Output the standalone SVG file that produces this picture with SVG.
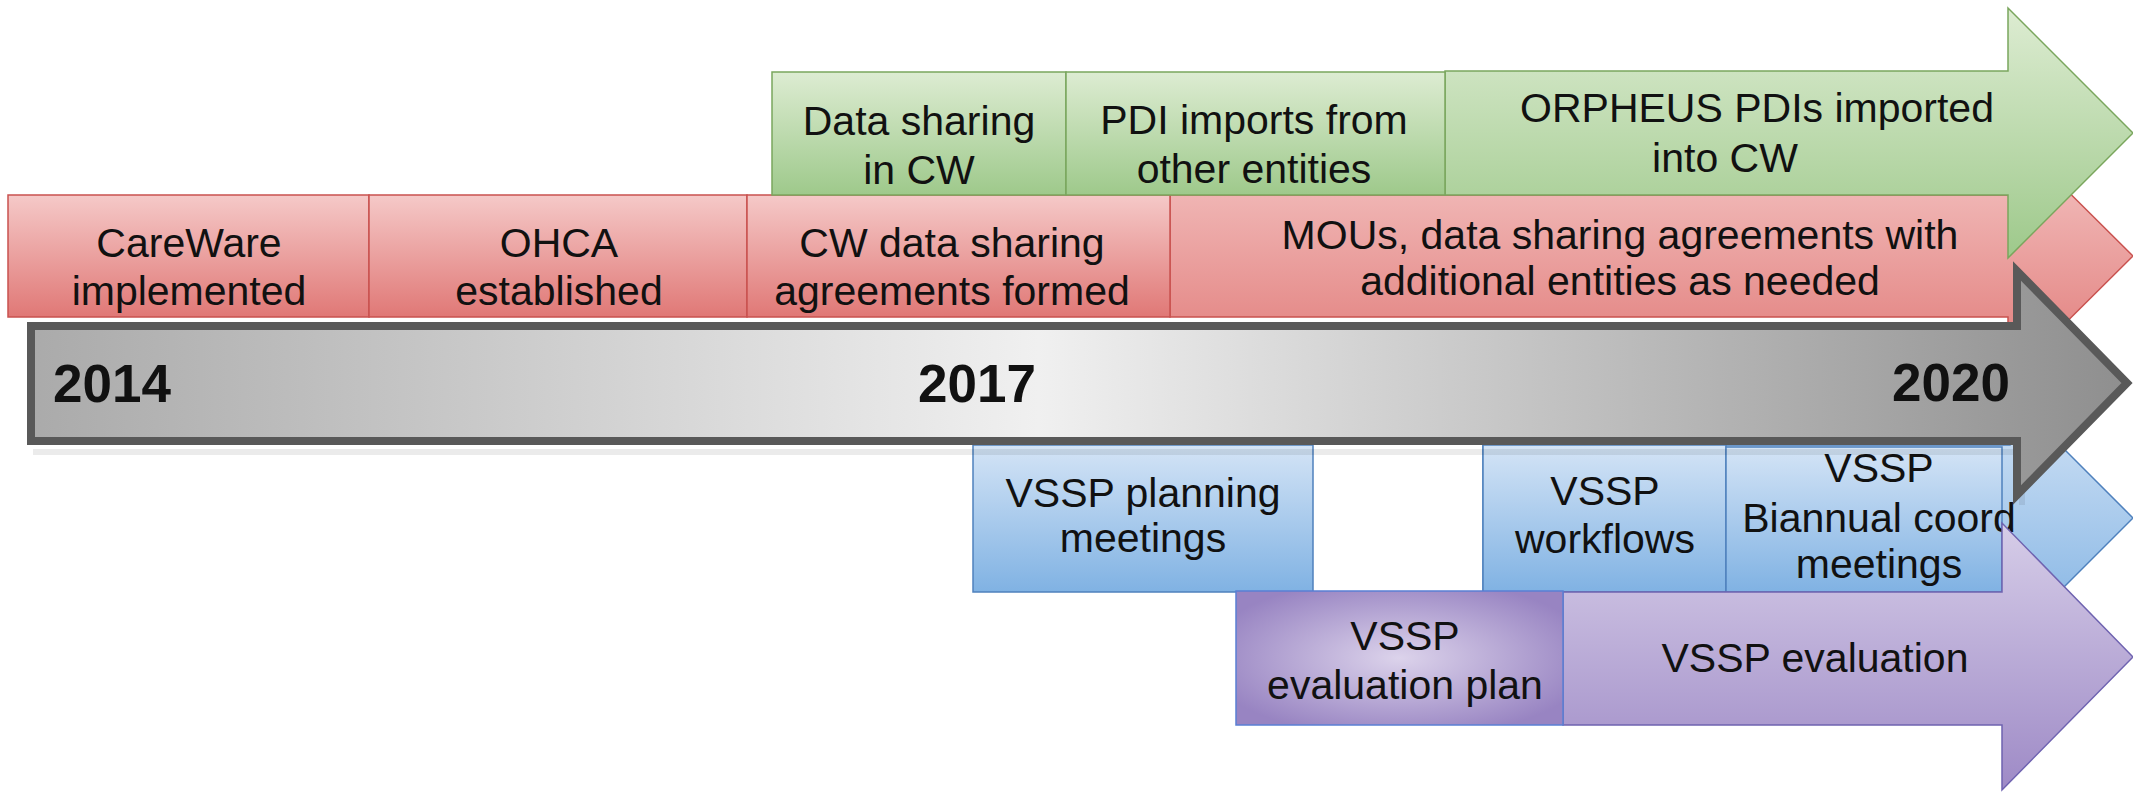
<svg xmlns="http://www.w3.org/2000/svg" width="2133" height="794" viewBox="0 0 2133 794">
<defs>
<linearGradient id="gRed" x1="0" y1="0" x2="0" y2="1"><stop offset="0" stop-color="#f5c9c8"/><stop offset="1" stop-color="#e07876"/></linearGradient>
<linearGradient id="gRedHead" gradientUnits="userSpaceOnUse" x1="0" y1="132" x2="0" y2="380"><stop offset="0" stop-color="#f5c9c8"/><stop offset="1" stop-color="#e07876"/></linearGradient>
<linearGradient id="gGreen" x1="0" y1="0" x2="0" y2="1"><stop offset="0" stop-color="#ddecd2"/><stop offset="1" stop-color="#9ec98b"/></linearGradient>
<linearGradient id="gGreenHead" gradientUnits="userSpaceOnUse" x1="0" y1="8" x2="0" y2="257"><stop offset="0" stop-color="#ddecd2"/><stop offset="1" stop-color="#9ec98b"/></linearGradient>
<linearGradient id="gBlue" x1="0" y1="0" x2="0" y2="1"><stop offset="0" stop-color="#d4e4f6"/><stop offset="1" stop-color="#80b2e3"/></linearGradient>
<linearGradient id="gBlueHead" gradientUnits="userSpaceOnUse" x1="0" y1="395" x2="0" y2="641"><stop offset="0" stop-color="#d4e4f6"/><stop offset="1" stop-color="#80b2e3"/></linearGradient>
<linearGradient id="gPurple" gradientUnits="userSpaceOnUse" x1="0" y1="523" x2="0" y2="790"><stop offset="0" stop-color="#d6cde8"/><stop offset="1" stop-color="#9e8ac6"/></linearGradient>
<radialGradient id="gPlan" cx="0.5" cy="0.5" r="0.6"><stop offset="0" stop-color="#dcd3eb"/><stop offset="1" stop-color="#9884c2"/></radialGradient>
<linearGradient id="gGray" gradientUnits="userSpaceOnUse" x1="27" y1="0" x2="2133" y2="0"><stop offset="0" stop-color="#aaaaaa"/><stop offset="0.48" stop-color="#f0f0f0"/><stop offset="1" stop-color="#8e8e8e"/></linearGradient>
</defs>
<style>
.t{font-family:"Liberation Sans",Arial,sans-serif;font-size:41px;fill:#111;text-anchor:middle}
.y{font-family:"Liberation Sans",Arial,sans-serif;font-size:53px;font-weight:bold;fill:#111}
.red{fill:url(#gRed);stroke:#c9524f;stroke-width:1.5}
.green{fill:url(#gGreen);stroke:#7aa65d;stroke-width:1.5}
.blue{fill:url(#gBlue);stroke:#4f81bd;stroke-width:1.5}
</style>
<g id="connectors"></g>

<!-- Red track -->
<g id="red-arrow">
<path d="M1170,195 L2008,195 L2008,132 L2133,256 L2008,380 L2008,317 L1170,317 Z" fill="url(#gRedHead)" stroke="#c9524f" stroke-width="1.5"/>
<text class="t" x="1620" y="249">MOUs, data sharing agreements with</text>
<text class="t" x="1620" y="295">additional entities as needed</text>
</g>
<g id="careware"><rect class="red" x="8" y="195" width="361" height="122"/>
<text class="t" x="189" y="257">CareWare</text><text class="t" x="189" y="305">implemented</text></g>
<g id="ohca"><rect class="red" x="369" y="195" width="378" height="122"/>
<text class="t" x="559" y="257">OHCA</text><text class="t" x="559" y="305">established</text></g>
<g id="cw-agreements"><rect class="red" x="747" y="195" width="423" height="122"/>
<text class="t" x="952" y="257">CW data sharing</text><text class="t" x="952" y="305">agreements formed</text></g>

<!-- Green track -->
<g id="green-arrow">
<path d="M1445,71 L2008,71 L2008,8 L2133,133 L2008,258 L2008,195 L1445,195 Z" fill="url(#gGreenHead)" stroke="#7aa65d" stroke-width="1.5"/>
<text class="t" x="1757" y="122">ORPHEUS PDIs imported</text>
<text class="t" x="1725" y="172">into CW</text>
</g>
<g id="data-sharing-cw"><rect class="green" x="772" y="72" width="294" height="123"/>
<text class="t" x="919" y="135">Data sharing</text><text class="t" x="919" y="184">in CW</text></g>
<g id="pdi-imports"><rect class="green" x="1066" y="72" width="379" height="123"/>
<text class="t" x="1254" y="134">PDI imports from</text><text class="t" x="1254" y="183">other entities</text></g>

<!-- Blue track -->
<g id="blue-arrow">
<path d="M1483,445 L2010,445 L2010,395 L2133,518 L2010,641 L2010,592 L1483,592 Z" fill="url(#gBlueHead)" stroke="#4f81bd" stroke-width="1.5"/>
</g>
<g id="vssp-planning"><rect class="blue" x="973" y="445" width="340" height="147"/>
<text class="t" x="1143" y="507">VSSP planning</text><text class="t" x="1143" y="552">meetings</text></g>
<g id="vssp-workflows"><rect class="blue" x="1483" y="445" width="243" height="147"/>
<text class="t" x="1605" y="505">VSSP</text><text class="t" x="1605" y="553">workflows</text></g>
<g id="vssp-biannual"><rect class="blue" x="1726" y="447" width="276" height="145"/>
<text class="t" x="1879" y="482">VSSP</text><text class="t" x="1879" y="532">Biannual coord</text><text class="t" x="1879" y="578">meetings</text></g>

<!-- Purple track -->
<g id="purple-arrow">
<path d="M1563,592 L2002,592 L2002,523 L2133,657 L2002,790 L2002,725 L1563,725 Z" fill="url(#gPurple)" stroke="#6f63b0" stroke-width="1.5"/>
<text class="t" x="1815" y="672">VSSP evaluation</text>
</g>
<g id="vssp-eval-plan"><rect x="1236" y="591" width="327" height="134" fill="url(#gPlan)" stroke="#5a7fd4" stroke-width="1.5"/>
<text class="t" x="1405" y="650">VSSP</text><text class="t" x="1405" y="699">evaluation plan</text></g>

<!-- Timeline -->
<g id="timeline">
<path d="M33,452 L2022,452 L2022,505" fill="none" stroke="#000" stroke-opacity="0.08" stroke-width="6"/>
<path d="M31,326 L2017,326 L2017,271 L2127,383 L2017,495 L2017,441 L31,441 Z" fill="url(#gGray)" stroke="#595959" stroke-width="8" stroke-linejoin="miter"/>
<text class="y" x="53" y="402">2014</text>
<text class="y" x="977" y="402" text-anchor="middle">2017</text>
<text class="y" x="2010" y="401" text-anchor="end">2020</text>
</g>
</svg>
